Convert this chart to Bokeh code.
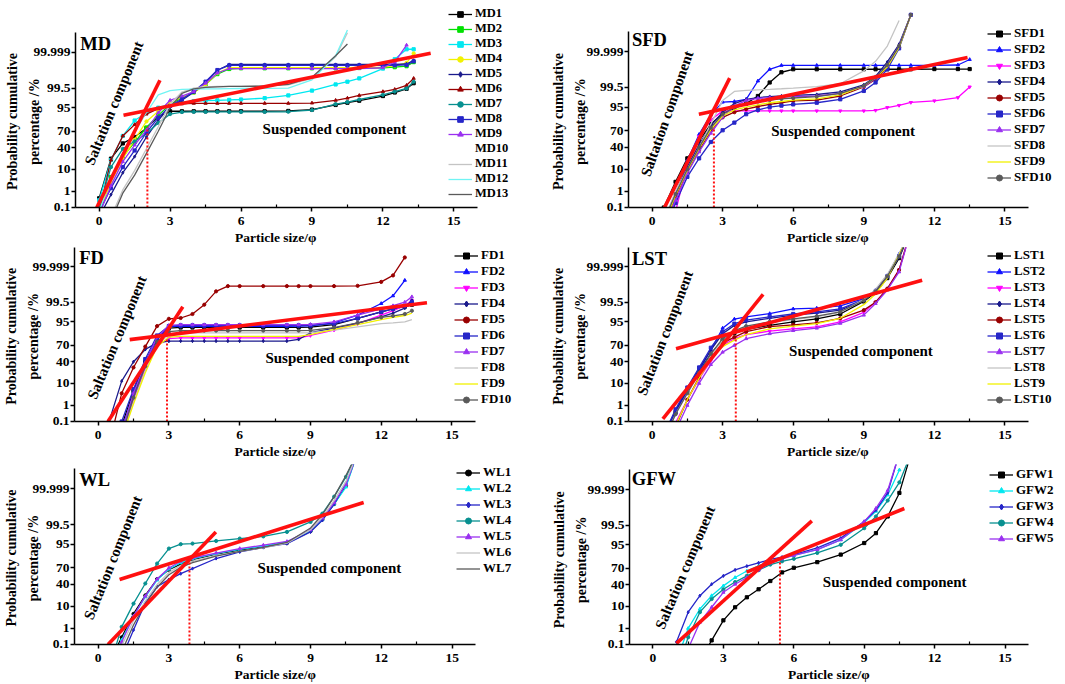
from statistics import NormalDist
from bokeh.plotting import figure
from bokeh.models import FixedTicker, Legend, LegendItem, Label, Range1d, ColumnDataSource
from bokeh.layouts import column, row
from bokeh.embed import file_html
from bokeh.resources import INLINE

# ---------------- data (cumulative %) ----------------
Y_TICK_PCT = [0.1, 1, 10, 40, 70, 95, 99.5, 99.999]
Y_TICK_LABELS = ["0.1", "1", "10", "40", "70", "95", "99.5", "99.999"]
X_TICKS = [0, 3, 6, 9, 12, 15]
X_MINOR = [1.5, 4.5, 7.5, 10.5, 13.5]

MD_NAMES = ["MD1", "MD2", "MD3", "MD4", "MD5", "MD6", "MD7", "MD8", "MD9", "MD10", "MD11", "MD12", "MD13"]
MD_PHI = [0, 0.5, 1, 1.5, 2, 2.5, 3, 3.5, 4, 4.5, 5, 5.5, 6, 7, 8, 9, 10, 10.5, 11, 12, 12.5, 13, 13.3]
MD1 = [0.4, 22, 48, 60, 75, 89, 93, 93, 93, 93, 93, 93, 93, 93, 93.2, 94, 96.2, 97, 97.6, 98.6, 99.1, 99.45, 99.75]
MD2 = [0.1, 5, 25, 50, 76, 90, 96.5, 98.2, 99.1, 99.7, 99.94, 99.975, 99.978, 99.978, 99.978, 99.978, 99.978, 99.978, 99.979, 99.98, 99.982, 99.985, 99.993]
MD3 = [0.3, 20, 62, 85, 92, 95, 96.5, 97.2, 97.5, 97.6, 97.7, 97.8, 97.9, 98.2, 98.7, 99.3, 99.7, 99.8, 99.88, 99.977, 99.996, 99.9995, 99.9995]
MD4 = [0.05, 3, 22, 55, 84, 93, 97, 98.4, 99.1, 99.7, 99.95, 99.98, 99.98, 99.98, 99.98, 99.98, 99.98, 99.98, 99.981, 99.982, 99.986, 99.992, 99.9988]
MD5 = [0.02, 0.66, 7.5, 25, 60, 85.5, 95.2, 97.7, 99.13, 99.78, 99.969, 99.989, 99.989, 99.989, 99.989, 99.989, 99.989, 99.989, 99.989, 99.989, 99.989, 99.99, 99.995]
MD6 = [0.05, 20, 62, 80, 91, 94.5, 96, 96.6, 96.8, 96.8, 96.8, 96.8, 96.8, 96.8, 96.8, 96.9, 97.7, 98.2, 98.7, 99.2, 99.4, 99.66, 99.88]
MD7 = [0.1, 12, 38, 52, 66, 82, 91, 92.5, 92.6, 92.6, 92.6, 92.6, 92.6, 92.6, 92.7, 93.7, 96.5, 97.2, 97.9, 98.8, 99.2, 99.47, 99.8]
MD8 = [0.05, 1.5, 12, 35, 68, 88, 95.8, 98, 99.2, 99.8, 99.97, 99.987, 99.987, 99.987, 99.987, 99.987, 99.987, 99.987, 99.987, 99.987, 99.987, 99.988, 99.994]
MD9 = [0.03, 2, 18, 45, 72, 92, 97.7, 98.6, 99.2, 99.75, 99.95, 99.977, 99.977, 99.977, 99.977, 99.977, 99.977, 99.977, 99.977, 99.98, 99.993, 99.9998, None]
MD10 = [0.001, 0.05, 1.5, 9, 38, 77, 96.5, 99.15, 99.5, 99.58, 99.6, 99.6, 99.6, 99.62, 99.68, 99.88, 99.9975, 99.99998, None, None, None, None, None]
MD11 = [0.0005, 0.02, 1.2, 9, 38, 77, 96.5, 99.15, 99.5, 99.58, 99.6, 99.6, 99.6, 99.62, 99.68, 99.88, 99.9975, 99.99999, None, None, None, None, None]
MD12 = [0.05, 5, 30, 70, 92, 98.8, 99.3, 99.4, 99.42, 99.44, 99.45, 99.46, 99.47, 99.48, 99.5, 99.85, 99.998, 99.999995, None, None, None, None, None]
MD13 = [0.0001, 0.01, 0.8, 6, 30, 70, 95, 99.0, 99.45, 99.55, 99.58, 99.6, 99.6, 99.62, 99.7, 99.9, 99.998, 99.99985, None, None, None, None, None]
MD_SALT_PHI = [-0.1, 2.57]
MD_SALT_PCT = [0.1, 99.84]
MD_SUSP_PHI = [1.03, 14.02]
MD_SUSP_PCT = [90.1, 99.9988]
MD_CUT = [2.04, 77]

SFD_NAMES = ["SFD1", "SFD2", "SFD3", "SFD4", "SFD5", "SFD6", "SFD7", "SFD8", "SFD9", "SFD10"]
SFD_PHI = [0.5, 1, 1.5, 2, 2.5, 3, 3.5, 4, 4.5, 5, 5.5, 6, 7, 8, 9, 9.5, 10, 10.5, 11, 12, 13, 13.5]
SFD1 = [0.1, 3, 22, 52, 80, 91, 94.5, 96.5, 98.5, 99.75, 99.95, 99.97, 99.97, 99.97, 99.97, 99.97, 99.97, 99.97, 99.97, 99.971, 99.971, 99.971]
SFD2 = [0.001, 0.35, 19, 64, 90, 97, 97.2, 97.8, 99.8, 99.97, 99.985, 99.985, 99.985, 99.985, 99.985, 99.985, 99.985, 99.985, 99.985, 99.985, 99.986, 99.995]
SFD3 = [0.0001, 0.05, 15, 60, 85, 92.9, 92.9, 92.9, 92.9, 92.9, 92.9, 92.9, 92.9, 92.9, 92.9, 93.2, 94.8, 95.8, 96.9, 97.4, 98.2, 99.53]
SFD4 = [0.01, 0.8, 12, 45, 78, 92, 96.5, 97.8, 98.2, 98.4, 98.5, 98.6, 98.75, 99.1, 99.65, 99.9, 99.992, 99.9998, 99.9999999, None, None, None]
SFD5 = [0.005, 0.5, 8, 35, 70, 87.7, 92, 94, 95.3, 96.2, 96.8, 97.4, 97.6, 98.5, 99.53, 99.85, 99.978, 99.9996, 99.9999999, None, None, None]
SFD6 = [0.001, 0.2, 5, 22, 50, 71, 82, 90.5, 93.5, 95, 95.7, 96.2, 96.8, 97.8, 99.2, 99.75, 99.97, 99.9995, 99.9999999, None, None, None]
SFD7 = [0.002, 0.3, 7, 32, 66, 88, 95.5, 97.5, 98, 98.2, 98.3, 98.4, 98.5, 98.9, 99.55, 99.87, 99.985, 99.9997, 99.9999999, None, None, None]
SFD8 = [0.01, 1, 10, 40, 80, 97.5, 99.15, 99.25, 99.3, 99.35, 99.4, 99.45, 99.55, 99.7, 99.96, 99.993, 99.9997, 99.9999995, None, None, None, None]
SFD9 = [0.005, 0.6, 9, 38, 72, 89, 93.5, 95, 96, 96.8, 97.2, 97.6, 97.9, 98.7, 99.6, 99.88, 99.98, 99.9996, 99.9999999, None, None, None]
SFD10 = [0.01, 0.7, 10, 40, 75, 90.5, 95, 96.5, 97.2, 97.6, 97.9, 98.1, 98.4, 98.9, 99.6, 99.88, 99.986, 99.9997, 99.9999999, None, None, None]
SFD_SALT_PHI = [0.53, 3.3]
SFD_SALT_PCT = [0.1, 99.87]
SFD_SUSP_PHI = [1.99, 13.41]
SFD_SUSP_PCT = [90.5, 99.9967]
SFD_CUT = [2.63, 75]

FD_NAMES = ["FD1", "FD2", "FD3", "FD4", "FD5", "FD6", "FD7", "FD8", "FD9", "FD10"]
FD_PHI = [0.5, 1, 1.5, 2, 2.5, 3, 3.5, 4, 4.5, 5, 5.5, 6, 7, 8, 8.5, 9, 10, 11, 12, 12.5, 13, 13.3]
FD1 = [0.0001, 0.05, 5, 40, 80, 91, 91.6, 91.6, 91.6, 91.6, 91.6, 91.6, 91.6, 91.6, 91.6, 91.8, 93.5, 96.5, 98.3, 98.8, 99.1, 99.3]
FD2 = [0.0001, 0.03, 3, 35, 80, 92.4, 92.4, 92.4, 92.4, 92.4, 92.4, 92.4, 92.4, 92.4, 92.5, 92.6, 94.5, 97.5, 99.4, 99.8, 99.985, None]
FD3 = [0.00001, 0.01, 2, 28, 70, 80, 81, 81, 81, 81, 81, 81, 81, 81, 81, 84, 89.5, 94, 97.5, 98.5, 99.2, 99.62]
FD4 = [0.15, 12, 40, 63, 74, 76.5, 76.7, 76.7, 76.7, 76.7, 76.7, 76.7, 76.7, 76.7, 79, 87, 91, 94.3, 97, 98, 98.9, 99.62]
FD5 = [0.003, 4, 30, 68, 92.5, 96.3, 96.6, 97.8, 99.3, 99.9, 99.958, 99.958, 99.958, 99.958, 99.958, 99.958, 99.958, 99.96, 99.98, 99.994, 99.99987, None]
FD6 = [0.0005, 0.1, 6, 45, 84, 92.5, 93, 93, 93, 93, 93, 93, 93, 93, 93, 93, 94, 96.5, 98.3, 98.8, 99.2, 99.5]
FD7 = [0.0001, 0.02, 4, 38, 82, 93, 93.4, 93.4, 93.4, 93.4, 93.4, 93.4, 93.4, 93.4, 93.4, 93.6, 95, 97.5, 98.8, 99.2, 99.5, 99.77]
FD8 = [0.00001, 0.005, 1.5, 25, 70, 85, 86.8, 86.8, 86.8, 86.8, 86.8, 86.8, 86.8, 86.8, 86.8, 87, 89.5, 92, 94, 94.5, 95, 96]
FD9 = [0.00001, 0.005, 1.2, 22, 68, 82, 83, 83, 83, 83, 83, 83, 83, 83, 83, 85, 90, 93.5, 96, 96.8, 97.4, 98]
FD10 = [0.00005, 0.01, 2.5, 32, 76, 88, 89, 89, 89, 89, 89, 89, 89, 89, 89, 89.2, 91.5, 94.5, 96.8, 97.3, 97.8, 98.5]
FD_SALT_PHI = [0.42, 3.59]
FD_SALT_PCT = [0.1, 99.09]
FD_SUSP_PHI = [1.34, 13.94]
FD_SUSP_PCT = [78.8, 99.46]
FD_CUT = [2.92, 79]

LST_NAMES = ["LST1", "LST2", "LST3", "LST4", "LST5", "LST6", "LST7", "LST8", "LST9", "LST10"]
LST_PHI = [0.5, 1, 1.5, 2, 2.5, 3, 3.5, 4, 5, 6, 7, 8, 9, 9.5, 10, 10.5, 11]
LST1 = [0.005, 0.4, 5, 24, 55, 78, 86.5, 90, 93, 95, 96.3, 97.8, 99.55, 99.88, 99.99, 99.99985, 99.9999999]
LST2 = [0.01, 0.4, 5, 25, 62, 91, 96.2, 97, 97.9, 98.8, 98.9, 99.18, 99.7, 99.92, 99.994, 99.99994, 99.9999999]
LST3 = [0.0005, 0.08, 2, 14, 42, 70, 80, 85, 88.5, 90.5, 92, 95, 98.2, 99.5, 99.93, 99.998, 99.9999999]
LST4 = [0.008, 0.5, 6, 28, 62, 86, 93, 95, 96.5, 97.5, 98, 98.6, 99.6, 99.9, 99.993, 99.9999, 99.9999999]
LST5 = [0.0002, 0.04, 2, 16, 47, 73.6, 82, 88, 92.2, 93.3, 94.5, 96.5, 98.6, 99.5, 99.936, 99.998, 99.9999999]
LST6 = [0.01, 0.6, 7, 30, 66, 88, 94, 95.8, 97, 97.8, 98.3, 98.8, 99.65, 99.9, 99.993, 99.9999, 99.9999999]
LST7 = [0.0001, 0.02, 1, 10, 35, 58, 70, 80, 86, 89, 91, 94.2, 97.5, 99.4, 99.92, 99.997, 99.9999999]
LST8 = [0.005, 0.3, 4, 20, 52, 78, 88, 92, 94.5, 96, 97, 98.2, 99.65, 99.93, 99.995, 99.99995, 99.9999999]
LST9 = [0.0005, 0.05, 2, 15, 45, 68, 78, 85, 90.5, 92.5, 94, 96.5, 99.3, 99.85, 99.99, 99.99993, 99.9999999]
LST10 = [0.003, 0.3, 4, 22, 55, 80, 89, 92.5, 95, 96.3, 97.2, 98.3, 99.6, 99.9, 99.993, 99.9999, 99.9999999]
LST_SALT_PHI = [0.46, 4.72]
LST_SALT_PCT = [0.15, 99.84]
LST_SUSP_PHI = [1.02, 11.48]
LST_SUSP_PCT = [64.4, 99.985]
LST_CUT = [3.56, 81]

WL_NAMES = ["WL1", "WL2", "WL3", "WL4", "WL5", "WL6", "WL7"]
WL_PHI = [0.5, 1, 1.5, 2, 2.5, 3, 3.5, 4, 5, 6, 7, 8, 9, 9.5, 10, 10.5, 11]
WL1 = [0.005, 0.3, 5, 22, 50, 67, 76, 82, 88, 91.5, 93.5, 95.5, 98.8, 99.75, 99.98, 99.9995, 99.9999999]
WL2 = [0.003, 0.2, 4, 20, 48, 68, 78, 83, 88.5, 92, 94, 96, 98.9, 99.75, 99.98, 99.9993, 99.9999999]
WL3 = [0.00001, 0.01, 0.8, 13, 36, 49, 60, 69, 83.4, 90, 93.2, 95.3, 98.7, 99.72, 99.98, 99.9997, 99.9999999]
WL4 = [0.002, 1.2, 12.3, 41.7, 76.8, 92.5, 95, 95.3, 96.4, 97.2, 97.8, 98.7, 99.65, 99.9, 99.995, 99.99993, 99.9999999]
WL5 = [0.001, 0.15, 4, 21, 50, 70, 80, 84, 89, 92.5, 94.5, 96.2, 99, 99.8, 99.985, 99.9996, 99.9999999]
WL6 = [0.0005, 0.08, 2.5, 15, 40, 62, 74, 80, 86.5, 90.5, 93, 95.5, 99, 99.82, 99.99, 99.9998, 99.9999999]
WL7 = [0.0001, 0.03, 1.5, 12, 35, 58, 71, 78, 86, 90.5, 93.2, 95.8, 99.2, 99.88, 99.995, 99.99995, 99.9999999]
WL_SALT_PHI = [0.42, 4.99]
WL_SALT_PCT = [0.1, 98.7]
WL_SUSP_PHI = [0.91, 11.25]
WL_SUSP_PCT = [49.2, 99.985]
WL_CUT = [3.87, 83]

GFW_NAMES = ["GFW1", "GFW2", "GFW3", "GFW4", "GFW5"]
GFW_PHI = [1, 1.5, 2, 2.5, 3, 3.5, 4, 4.5, 5, 5.5, 6, 7, 8, 9, 9.5, 10, 10.5, 11]
GFW1 = [0.00001, 0.0005, 0.005, 0.19, 2.6, 9.3, 19.8, 32, 47, 63, 71, 79.4, 88.1, 95.8, 98.6, 99.86, 99.998, 99.9999999]
GFW2 = [0.005, 1, 8, 22, 38, 53.6, 65.5, 74, 80.9, 84.5, 87.3, 92.2, 97, 99.65, 99.94, 99.997, 99.99999, None]
GFW3 = [0.15, 6, 22, 41, 56.7, 67.4, 73.6, 78.5, 82.9, 85.5, 88, 93.3, 97.5, 99.7, 99.95, 99.998, 99.9999999, None]
GFW4 = [0.0005, 0.3, 6, 17.6, 32, 45, 56.7, 67, 76, 80.5, 83.6, 89.6, 95, 99.25, 99.86, 99.991, 99.9998, 99.9999999]
GFW5 = [0.00001, 0.05, 2.1, 9.3, 27, 41, 53.6, 67, 78.5, 83.5, 87.3, 92.2, 97, 99.7, 99.963, 99.9988, 99.9999999, None]
GFW_SALT_PHI = [1.0, 6.77]
GFW_SALT_PCT = [0.12, 99.73]
GFW_SUSP_PHI = [3.99, 10.71]
GFW_SUSP_PCT = [63.7, 99.962]
GFW_CUT = [5.41, 86]

X_LABEL = "Particle size/\u03c6"
Y_LABEL_LINES = ["Probability cumulative", "percentage /%"]

# ---------------- styling ----------------
BLACK, BLUE, MAGENTA, NAVY, WINE = "#000000", "#1010ff", "#ff00ff", "#1a1a8c", "#990000"
ROYAL, VIOLET, LTGRAY, YELLOW, GRAY = "#2626c8", "#9a30f0", "#c4c4c4", "#f2f200", "#5a5a5a"
CYAN, TEAL, GREEN, LTCYAN, WHITE = "#00e8f0", "#079090", "#00e000", "#70f4f4", "#ffffff"
RED = "#ff1010"
FONT = "Liberation Serif"
NBSP = "\u00a0"

STD_COLORS = [BLACK, BLUE, MAGENTA, NAVY, WINE, ROYAL, VIOLET, LTGRAY, YELLOW, GRAY]
STD_MARKS = ["square", "triangle", "inverted_triangle", "diamond", "circle", "square", "triangle", None, None, "circle"]

_nd = NormalDist()


def zq(p):
    if p is None:
        return float("nan")
    return _nd.inv_cdf(p / 100.0)


YT = [round(zq(v), 4) for v in Y_TICK_PCT]
Z0 = zq(0.1)
ZTOP = 5.22
XFS, YFS = 13.5, 14.0


def panel(tag, phi, names, series, colors, marks, salt, susp, cut, tag_pos, salt_pos, susp_pos, geom):
    W, H, axl, axr, axt, axb, T, R, lx, ly, lh, lfont, ylab_standoff = geom
    frame_r = W - R
    x_end = -1.0 + 17.0 * (frame_r - axl) / (axr - axl)
    y_end = Z0 + (ZTOP - Z0) * (axb - T) / (axb - axt)
    p = figure(width=W, height=H, x_range=Range1d(-1.0, x_end), y_range=Range1d(Z0, y_end),
               output_backend="svg", toolbar_location=None,
               min_border_left=axl, min_border_right=R, min_border_top=T, min_border_bottom=H - axb)
    p.outline_line_color = None
    p.grid.visible = False

    items = []
    for name, ys, col, mk in zip(names, series, colors, marks):
        src = ColumnDataSource(dict(x=phi, y=[zq(v) for v in ys]))
        rs = [p.line("x", "y", source=src, line_color=col, line_width=1.3)]
        if mk:
            rs.append(p.scatter("x", "y", source=src, marker=mk, size=3.2,
                                fill_color=col, line_color=col))
        items.append(LegendItem(label=name, renderers=rs))

    p.line(salt[0], [zq(v) for v in salt[1]], line_color=RED, line_width=3.6)
    p.line(susp[0], [zq(v) for v in susp[1]], line_color=RED, line_width=3.6)
    p.line([cut[0], cut[0]], [Z0, zq(cut[1])], line_color=RED, line_width=2, line_dash="2 2")

    # axes (labels are centred on the axis part of the frame, not on the legend area)
    nx = max(0, round((frame_r - axr) / (0.25 * XFS)))
    ny = max(0, round((axt - T + 4) / (0.25 * YFS)))
    p.xaxis.ticker = FixedTicker(ticks=X_TICKS, minor_ticks=X_MINOR)
    p.yaxis.ticker = FixedTicker(ticks=YT)
    p.yaxis.major_label_overrides = {t: lab for t, lab in zip(YT, Y_TICK_LABELS)}
    p.xaxis.bounds = (-1.0, 16.0)
    p.yaxis.bounds = (Z0, ZTOP)
    p.xaxis.axis_label = X_LABEL + NBSP * nx
    p.yaxis.axis_label = "\n".join(s + NBSP * ny for s in Y_LABEL_LINES)
    for ax in (p.xaxis[0], p.yaxis[0]):
        ax.axis_line_width = 1.5
        ax.major_tick_line_width = 1.5
        ax.minor_tick_line_width = 1.2
        ax.major_tick_out = 4
        ax.major_tick_in = 0
        ax.major_label_text_font = FONT
        ax.major_label_text_font_style = "bold"
        ax.major_label_text_font_size = "13.5px"
        ax.major_label_text_color = "black"
        ax.axis_label_text_font = FONT
        ax.axis_label_text_font_style = "bold"
        ax.axis_label_text_color = "black"
    p.xaxis.major_label_standoff = 5
    p.yaxis.major_label_standoff = 1
    p.xaxis.minor_tick_in = 3
    p.xaxis.minor_tick_out = 0
    p.yaxis.minor_tick_line_color = None
    p.xaxis.axis_label_text_font_size = f"{XFS}px"
    p.yaxis.axis_label_text_font_size = f"{YFS}px"
    p.yaxis.axis_label_text_line_height = 1.5
    p.xaxis.axis_label_standoff = 2
    p.yaxis.axis_label_standoff = ylab_standoff

    leg = Legend(items=items, location=(lx, ly), orientation="vertical",
                 border_line_color=None, background_fill_alpha=0, padding=0, margin=0,
                 spacing=0, glyph_width=24, glyph_height=lh, label_height=lh, label_standoff=3,
                 label_text_font=FONT, label_text_font_style="bold", label_text_font_size=lfont,
                 label_text_color="black")
    p.add_layout(leg)

    p.add_layout(Label(x=tag_pos[0], y=tag_pos[1], text=tag, text_font=FONT, text_font_style="bold",
                       text_font_size="18.5px", text_align="left", text_baseline="middle",
                       text_color="black"))
    p.add_layout(Label(x=salt_pos[0], y=salt_pos[1], text="Saltation component", text_font=FONT,
                       text_font_style="bold", text_font_size="15px", text_align="center",
                       text_baseline="middle", angle=salt_pos[2], angle_units="deg",
                       text_color="black"))
    p.add_layout(Label(x=susp_pos[0], y=susp_pos[1], text="Suspended component", text_font=FONT,
                       text_font_style="bold", text_font_size="15px", text_align="center",
                       text_baseline="middle", text_color="black"))
    return p


# geometry: W, H, axis-left, axis-right, axis-top, axis-bottom, top-border, right-border,
#           legend x, legend y, legend item height, legend font, y-label standoff
md = panel("MD", MD_PHI, MD_NAMES,
           [MD1, MD2, MD3, MD4, MD5, MD6, MD7, MD8, MD9, MD10, MD11, MD12, MD13],
           [BLACK, GREEN, CYAN, YELLOW, NAVY, WINE, TEAL, ROYAL, VIOLET, WHITE, LTGRAY, LTCYAN, GRAY],
           ["square", "square", "square", "circle", "diamond", "triangle", "circle", "square", "triangle",
            None, None, None, None],
           (MD_SALT_PHI, MD_SALT_PCT), (MD_SUSP_PHI, MD_SUSP_PCT), MD_CUT,
           (-0.8, 4.65), (0.63, 1.86, 67.7), (9.95, 0.64),
           (530, 247, 75, 477, 32, 208, 0, 14, 373, 6, 14, "12.5px", -12))

sfd = panel("SFD", SFD_PHI, SFD_NAMES,
            [SFD1, SFD2, SFD3, SFD4, SFD5, SFD6, SFD7, SFD8, SFD9, SFD10],
            STD_COLORS, STD_MARKS,
            (SFD_SALT_PHI, SFD_SALT_PCT), (SFD_SUSP_PHI, SFD_SUSP_PCT), SFD_CUT,
            (-0.85, 4.79), (0.64, 1.34, 70.7), (8.12, 0.54),
            (535, 247, 98, 498, 31, 208, 0, 8, 359, 22, 15, "13px", -5))

fd = panel("FD", FD_PHI, FD_NAMES,
           [FD1, FD2, FD3, FD4, FD5, FD6, FD7, FD8, FD9, FD10],
           STD_COLORS, STD_MARKS,
           (FD_SALT_PHI, FD_SALT_PCT), (FD_SUSP_PHI, FD_SUSP_PCT), FD_CUT,
           (-0.8, 4.66), (0.8, 0.9, 67.4), (10.14, -0.09),
           (530, 214, 73, 475, -1, 176, 0, 14, 380, 14, 15, "13px", -12))

lst = panel("LST", LST_PHI, LST_NAMES,
            [LST1, LST2, LST3, LST4, LST5, LST6, LST7, LST8, LST9, LST10],
            STD_COLORS, STD_MARKS,
            (LST_SALT_PHI, LST_SALT_PCT), (LST_SUSP_PHI, LST_SUSP_PCT), LST_CUT,
            (-0.85, 4.65), (0.55, 1.11, 69.0), (8.88, 0.26),
            (535, 214, 98, 498, -1, 176, 0, 8, 359, 14, 15, "13px", -5))

wl = panel("WL", WL_PHI, WL_NAMES,
           [WL1, WL2, WL3, WL4, WL5, WL6, WL7],
           [BLACK, CYAN, ROYAL, TEAL, VIOLET, LTGRAY, GRAY],
           ["circle", "triangle", "diamond", "circle", "triangle", None, None],
           (WL_SALT_PHI, WL_SALT_PCT), (WL_SUSP_PHI, WL_SUSP_PCT), WL_CUT,
           (-0.8, 4.69), (0.63, 1.01, 68.0), (9.8, 0.54),
           (530, 223, 71, 475, 7, 183, 3, 14, 382, 68, 15, "13px", -12))

gfw = panel("GFW", GFW_PHI, GFW_NAMES,
            [GFW1, GFW2, GFW3, GFW4, GFW5],
            [BLACK, CYAN, ROYAL, TEAL, VIOLET],
            ["square", "triangle", "diamond", "circle", "triangle"],
            (GFW_SALT_PHI, GFW_SALT_PCT), (GFW_SUSP_PHI, GFW_SUSP_PCT), GFW_CUT,
            (-0.9, 4.75), (1.37, 0.57, 67.0), (10.3, -0.13),
            (535, 223, 99, 498, 8, 183, 3, 7, 360, 98, 15, "13px", -5))

layout = column(row(md, sfd), row(fd, lst), row(wl, gfw))
open("out.html", "w").write(file_html(layout, INLINE))
